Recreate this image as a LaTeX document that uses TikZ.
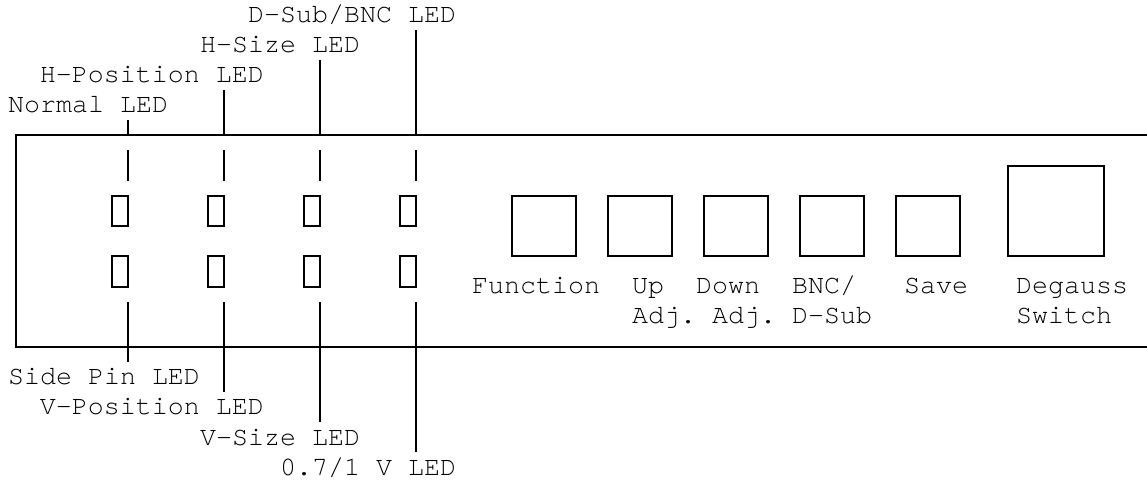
\documentclass[tikz,border=0pt]{standalone}
\usepackage{fontspec}
\newfontfamily\cour{TeX Gyre Cursor}
\begin{document}
\begin{tikzpicture}[x=0.75pt,y=-0.75pt, line width=1.5pt,
  txt/.style={anchor=base west, inner sep=0pt, outer sep=0pt, font=\cour\fontsize{20}{24}\selectfont},
  ledbox/.style={draw, line width=1.5pt, rectangle, inner sep=0pt, minimum width=12pt, minimum height=22.875pt},
  btn/.style={draw, line width=1.5pt, rectangle, inner sep=0pt, minimum width=48pt, minimum height=45pt},
  bigbtn/.style={draw, line width=1.5pt, rectangle, inner sep=0pt, minimum width=72pt, minimum height=67.5pt},
  lead/.style={draw, line width=1.5pt}]
\useasboundingbox (0,0) rectangle (1147,482);

% panel outline (open on the right)
\coordinate (pTR) at (1150,135);
\coordinate (pTL) at (16,135);
\coordinate (pBL) at (16,346.5);
\coordinate (pBR) at (1150,346.5);
\draw (pTR) -- (pTL) -- (pBL) -- (pBR);

% LEDs
\foreach \i in {0,1,2,3} {
  \node[ledbox] (ledt\i) at (120+96*\i,211) {};
  \node[ledbox] (ledb\i) at (120+96*\i,271.5) {};
}

% top labels
\node[txt] (lNormal) at (8,112.5) {Normal LED};
\node[txt] (lHPos)   at (40,82)   {H-Position LED};
\node[txt] (lHSize)  at (200,52)  {H-Size LED};
\node[txt] (lDSub)   at (248,22)  {D-Sub/BNC LED};

% top leader lines
\foreach \i/\ytop in {0/120,1/90,2/60,3/30} {
  \coordinate (ua\i) at (128+96*\i,\ytop);
  \coordinate (ub\i) at (128+96*\i,135);
  \coordinate (uc\i) at (128+96*\i,150);
  \coordinate (ud\i) at (128+96*\i,180.5);
  \draw[lead] (ua\i) -- (ub\i);
  \draw[lead] (uc\i) -- (ud\i);
}

% bottom labels
\node[txt] (lSide)  at (8,384.5)   {Side Pin LED};
\node[txt] (lVPos)  at (40,414.5)  {V-Position LED};
\node[txt] (lVSize) at (200,445)   {V-Size LED};
\node[txt] (l07)    at (280,475)   {0.7/1 V LED};

% bottom leader lines
\foreach \i/\ybot in {0/362,1/392,2/422,3/452} {
  \coordinate (da\i) at (128+96*\i,302);
  \coordinate (db\i) at (128+96*\i,\ybot);
  \draw[lead] (da\i) -- (db\i);
}

% buttons
\node[btn] (bFunc) at (544,226) {};
\node[btn] (bUp)   at (640,226) {};
\node[btn] (bDown) at (736,226) {};
\node[btn] (bBNC)  at (832,226) {};
\node[btn] (bSave) at (928,226) {};
\node[bigbtn] (bDeg) at (1056,211) {};

% button labels
\node[txt] (tFunc)  at (472,293.5) {Function};
\node[txt] (tUp)    at (632,293.5) {Up};
\node[txt] (tUp2)   at (632,323.5) {Adj.};
\node[txt] (tDown)  at (696,293.5) {Down};
\node[txt] (tDown2) at (712,323.5) {Adj.};
\node[txt] (tBNC)   at (792,293.5) {BNC/};
\node[txt] (tBNC2)  at (792,323.5) {D-Sub};
\node[txt] (tSave)  at (904,293.5) {Save};
\node[txt] (tDeg)   at (1016,293.5) {Degauss};
\node[txt] (tDeg2)  at (1016,323.5) {Switch};
\end{tikzpicture}
\end{document}
